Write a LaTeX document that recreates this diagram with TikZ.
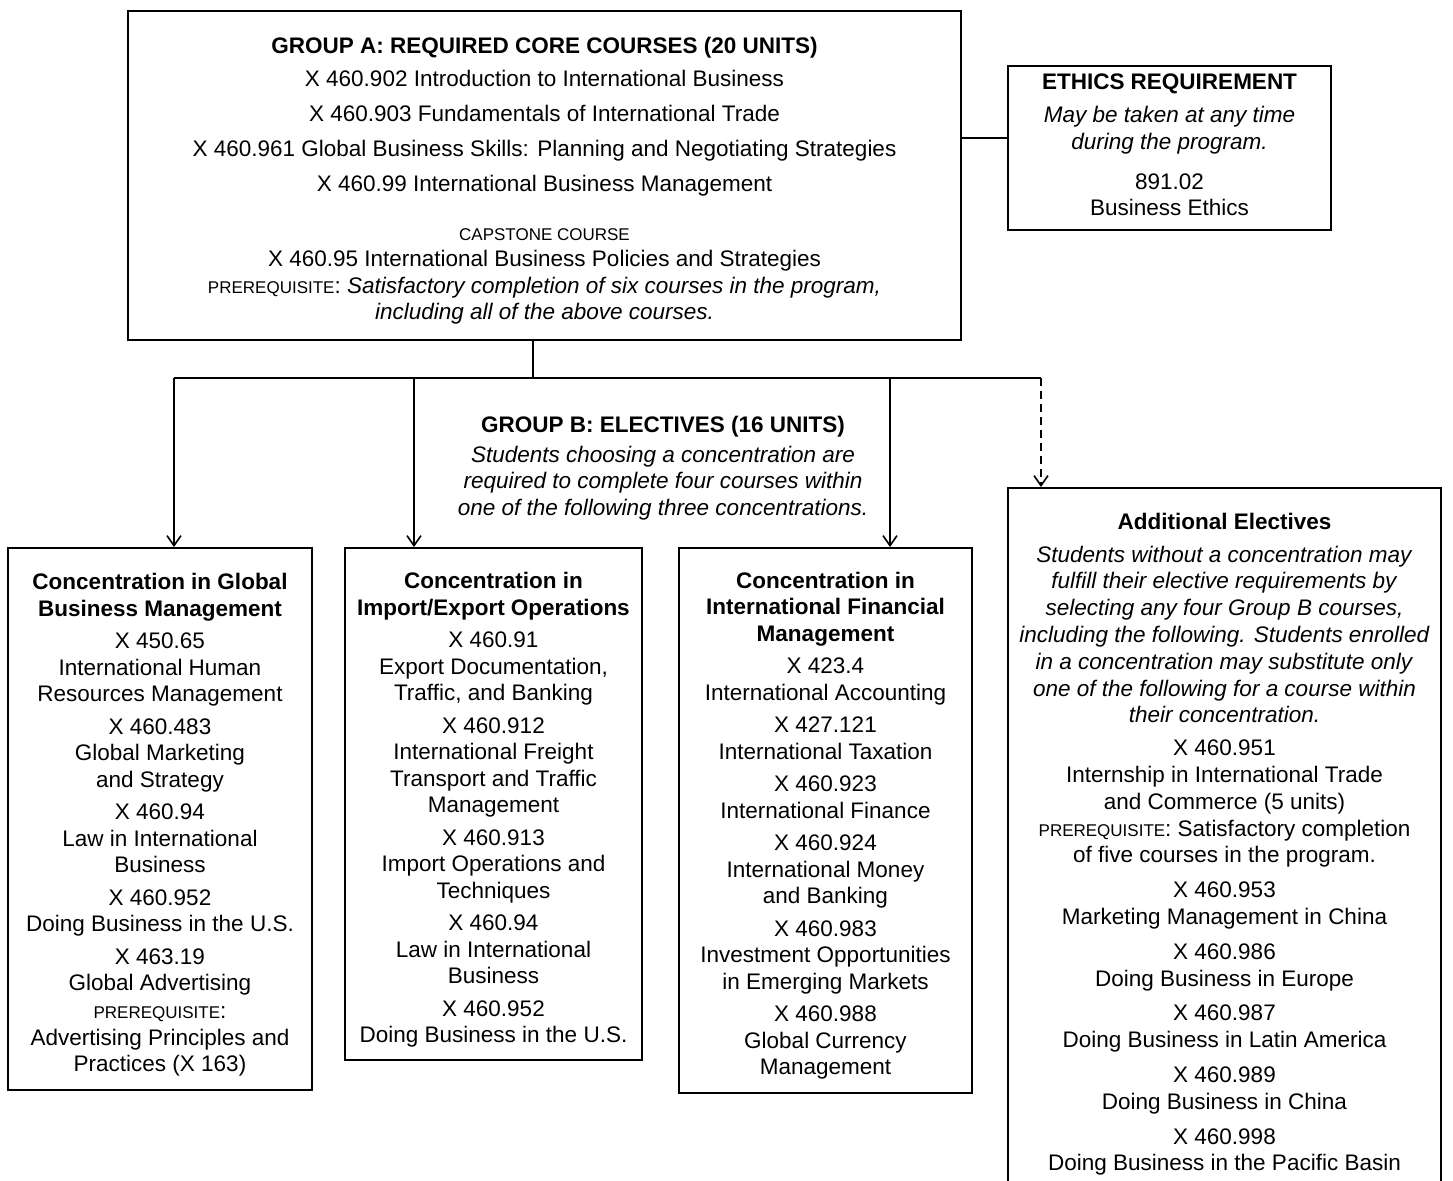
\documentclass[tikz,border=0pt]{standalone}
\usepackage{fontspec}
\setmainfont{Liberation Sans}
\usetikzlibrary{arrows.meta}
\newcommand{\capsnote}[1]{{\fontsize{8.5}{13.25}\selectfont #1}}
\newcommand{\padtop}[1]{\rule{0pt}{#1}}
\newcommand{\padbot}[1]{\rule[-#1]{0pt}{#1}}

\begin{document}
\begin{tikzpicture}[x=0.5pt, y=-0.5pt,
                    every node/.style = {font=\fontsize{11.25}{13.25}\selectfont},
                    box/.style = {draw, line width=1pt, inner sep=0pt,
                    align=center},
                    note/.style = {align=center, inner sep=0pt},
                    link/.style = {line width=0.8pt},
                    arr/.style = {link, -{Straight Barb[length=5pt,width=7pt]}}]
  \clip (0,0) rectangle (1453,1180);
  \node[box, minimum width=416.5pt, minimum height=164.5pt] (core) at (544.5,175.5)
    {\padtop{13.2pt}\textbf{GROUP A: REQUIRED CORE COURSES (20 UNITS)}\\[3.25pt]
     X 460.902 Introduction to International Business\\[4.25pt]
     X 460.903 Fundamentals of International Trade\\[4.25pt]
     X 460.961 Global Business Skills: Planning and Negotiating Strategies\\[4.25pt]
     X 460.99 International Business Management\\[11.25pt]
     \capsnote{CAPSTONE COURSE}\\
     X 460.95 International Business Policies and Strategies\\
     \capsnote{PREREQUISITE}: \textit{Satisfactory completion of six courses in the program,}\\
     \textit{including all of the above courses.}};
  \node[box, minimum width=161.5pt, minimum height=82pt] (ethics) at (1169.5,148)
    {\textbf{ETHICS REQUIREMENT}\\[3.25pt]
     \textit{May be taken at any time}\\
     \textit{during the program.}\\[6.75pt]
     891.02\\
     Business Ethics\padbot{3pt}};
  \node[note] (groupb) at (663,468)
    {\textbf{GROUP B: ELECTIVES (16 UNITS)}\\[1.75pt]
     \textit{Students choosing a concentration are}\\
     \textit{required to complete four courses within}\\
     \textit{one of the following three concentrations.}};
  \node[box, minimum width=152pt, minimum height=271pt] (gbm) at (160,819)
    {\padtop{14.2pt}\textbf{Concentration in Global}\\
     \textbf{Business Management}\\[3pt]
     X 450.65\\
     International Human\\
     Resources Management\\[3pt]
     X 460.483\\
     Global Marketing\\
     and Strategy\\[3pt]
     X 460.94\\
     Law in International\\
     Business\\[3pt]
     X 460.952\\
     Doing Business in the U.S.\\[3pt]
     X 463.19\\
     Global Advertising\\[0.75pt]
     \capsnote{PREREQUISITE}:\\
     Advertising Principles and\\
     Practices (X 163)};
  \node[box, minimum width=148.5pt, minimum height=256pt] (iex) at (493.5,804)
    {\padtop{14.2pt}\textbf{Concentration in}\\
     \textbf{Import/Export Operations}\\[3pt]
     X 460.91\\
     Export Documentation,\\
     Traffic, and Banking\\[3pt]
     X 460.912\\
     International Freight\\
     Transport and Traffic\\
     Management\\[3pt]
     X 460.913\\
     Import Operations and\\
     Techniques\\[3pt]
     X 460.94\\
     Law in International\\
     Business\\[3pt]
     X 460.952\\
     Doing Business in the U.S.};
  \node[box, minimum width=146.5pt, minimum height=272.5pt] (ifm) at (825.5,820.5)
    {\padtop{13.2pt}\textbf{Concentration in}\\
     \textbf{International Financial}\\
     \textbf{Management}\\[3pt]
     X 423.4\\
     International Accounting\\[3pt]
     X 427.121\\
     International Taxation\\[3pt]
     X 460.923\\
     International Finance\\[3pt]
     X 460.924\\
     International Money\\
     and Banking\\[3pt]
     X 460.983\\
     Investment Opportunities\\
     in Emerging Markets\\[3pt]
     X 460.988\\
     Global Currency\\
     Management};
  \node[box, minimum width=216.5pt, minimum height=351pt,
        font=\fontsize{11.25}{13.4}\selectfont] (addl) at (1224.5,839)
    {\padtop{13.5pt}\textbf{Additional Electives}\\[3pt]
     \textit{Students without a concentration may}\\
     \textit{fulfill their elective requirements by}\\
     \textit{selecting any four Group B courses,}\\
     \textit{including the following. Students enrolled}\\
     \textit{in a concentration may substitute only}\\
     \textit{one of the following for a course within}\\
     \textit{their concentration.}\\[3pt]
     X 460.951\\
     Internship in International Trade\\
     and Commerce (5 units)\\
     \capsnote{PREREQUISITE}: Satisfactory completion\\
     of five courses in the program.\\[4pt]
     X 460.953\\
     Marketing Management in China\\[4pt]
     X 460.986\\
     Doing Business in Europe\\[4pt]
     X 460.987\\
     Doing Business in Latin America\\[4pt]
     X 460.989\\
     Doing Business in China\\[4pt]
     X 460.998\\
     Doing Business in the Pacific Basin};
  \coordinate (eth) at (985,138);
  \coordinate (bar) at (533,378);
  \coordinate (t1) at (174,378);
  \coordinate (t2) at (414,378);
  \coordinate (t3) at (890,378);
  \coordinate (t4) at (1041,378);
  \draw[link] (core.east |- eth) -- (ethics.west |- eth);
  \draw[link] (bar |- core.south) -- (bar);
  \draw[link] (t1) -- (t4);
  \draw[arr] (t1) -- (t1 |- gbm.north);
  \draw[arr] (t2) -- (t2 |- iex.north);
  \draw[arr] (t3) -- (t3 |- ifm.north);
  \draw[arr, dash pattern=on 4pt off 2.5pt] (t4) -- (t4 |- addl.north);
\end{tikzpicture}
\end{document}
